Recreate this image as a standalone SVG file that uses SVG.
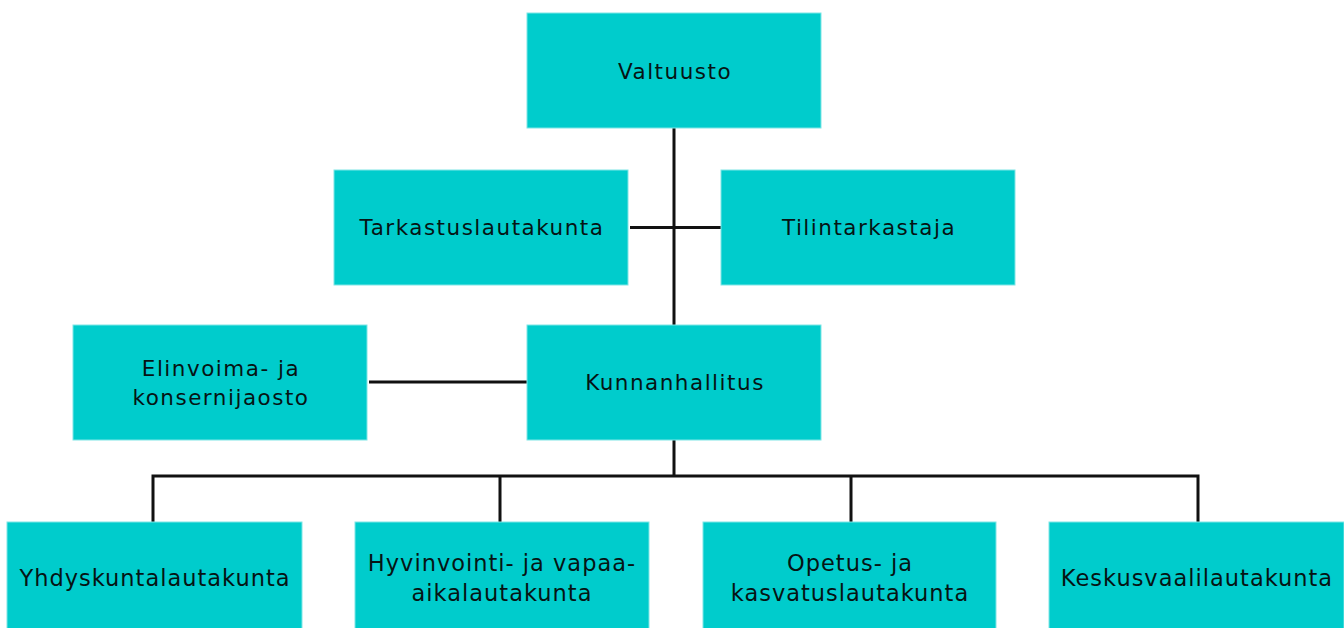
<svg xmlns="http://www.w3.org/2000/svg" width="1344" height="628" viewBox="0 0 1344 628">
<style>
.box{fill:#00CCCC;stroke:#7FE6E6;stroke-width:1}
.t{font-family:"DejaVu Sans","Liberation Sans",sans-serif;font-size:21.5px;fill:#061414;text-anchor:middle;letter-spacing:1.5px;dominant-baseline:central}
.b{font-family:"DejaVu Sans","Liberation Sans",sans-serif;font-size:22.5px;fill:#061414;text-anchor:middle;letter-spacing:1px;dominant-baseline:central}
.c{stroke:#111;stroke-width:3;fill:none}
</style>
<rect width="1344" height="628" fill="#fff"/>
<g id="connectors">
<path class="c" d="M674 128V325M674 440V476M153 476H1198M153 474.5V522M500 476V522M851 476V522M1198 474.5V522"/>
<path class="c" d="M630 227.5H721"/>
<path class="c" d="M369 382H527"/>
</g>
<g id="valtuusto"><rect class="box" x="527" y="13" width="294" height="115"/><text class="t" x="675" y="71">Valtuusto</text></g>
<g id="tarkastuslautakunta"><rect class="box" x="334" y="170" width="294" height="115"/><text class="t" x="482" y="227">Tarkastuslautakunta</text></g>
<g id="tilintarkastaja"><rect class="box" x="721" y="170" width="294" height="115"/><text class="t" x="869" y="227">Tilintarkastaja</text></g>
<g id="elinvoima"><rect class="box" x="73" y="325" width="294" height="115"/><text class="t" x="221" y="368">Elinvoima- ja</text><text class="t" x="221" y="397">konsernijaosto</text></g>
<g id="kunnanhallitus"><rect class="box" x="527" y="325" width="294" height="115"/><text class="t" x="675" y="382">Kunnanhallitus</text></g>
<g id="yhdyskunta"><rect class="box" x="7" y="522" width="295" height="115"/><text class="b" x="155" y="578">Yhdyskuntalautakunta</text></g>
<g id="hyvinvointi"><rect class="box" x="355" y="522" width="294" height="115"/><text class="b" x="502" y="563">Hyvinvointi- ja vapaa-</text><text class="b" x="502" y="593">aikalautakunta</text></g>
<g id="opetus"><rect class="box" x="703" y="522" width="293" height="115"/><text class="b" x="850" y="563">Opetus- ja</text><text class="b" x="850" y="593">kasvatuslautakunta</text></g>
<g id="keskusvaali"><rect class="box" x="1049" y="522" width="295" height="115"/><text class="b" x="1197" y="578">Keskusvaalilautakunta</text></g>
</svg>
